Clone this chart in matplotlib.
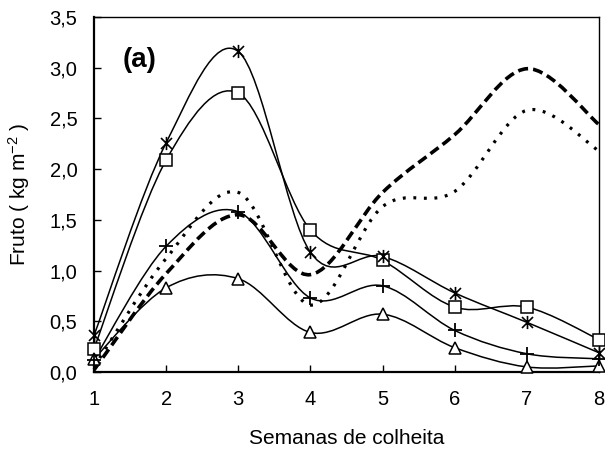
import matplotlib
matplotlib.use("Agg")
import matplotlib.pyplot as plt
from matplotlib.path import Path
from matplotlib.patches import PathPatch
import numpy as np

plt.rcParams['font.family'] = ['Liberation Sans', 'DejaVu Sans']
plt.rcParams['mathtext.default'] = 'regular'

weeks = [1, 2, 3, 4, 5, 6, 7, 8]
star = [0.36, 2.26, 3.16, 1.18, 1.14, 0.78, 0.49, 0.19]
square = [0.23, 2.09, 2.75, 1.40, 1.10, 0.64, 0.64, 0.32]
plus = [0.12, 1.24, 1.58, 0.73, 0.85, 0.41, 0.18, 0.13]
triangle = [0.13, 0.83, 0.92, 0.39, 0.57, 0.24, 0.05, 0.06]
dashed = [0.02, 0.97, 1.55, 0.96, 1.77, 2.34, 2.99, 2.44]
dotted = [0.05, 1.12, 1.77, 0.66, 1.63, 1.78, 2.58, 2.18]

xticks = [1, 2, 3, 4, 5, 6, 7, 8]
yticks = [0.0, 0.5, 1.0, 1.5, 2.0, 2.5, 3.0, 3.5]


def smooth_path(x, y):
    p = np.column_stack([x, y]).astype(float)
    n = len(p)
    verts = [p[0]]
    codes = [Path.MOVETO]
    for i in range(n - 1):
        p0 = p[i - 1] if i > 0 else p[i]
        p1 = p[i]
        p2 = p[i + 1]
        p3 = p[i + 2] if i + 2 < n else p[i + 1]
        c1 = p1 + (p2 - p0) / 6.0
        c2 = p2 - (p3 - p1) / 6.0
        verts += [c1, c2, p2]
        codes += [Path.CURVE4] * 3
    return Path(verts, codes)


fig = plt.figure(figsize=(6.05, 4.53), dpi=100)
ax = fig.add_axes([0.1554, 0.1788, 0.8346, 0.7837])

def add_curve(y, lw, ls):
    patch = PathPatch(smooth_path(weeks, y), facecolor='none', edgecolor='black',
                      linewidth=lw, linestyle=ls, zorder=2, clip_on=False)
    ax.add_patch(patch)

add_curve(dashed, 2.6, (0, (2.8, 1.4)))
add_curve(dotted, 2.3, (0, (0.9, 2.4)))
for s in [star, square, plus, triangle]:
    add_curve(s, 1.1, '-')

star_marker = Path([(-1, -1), (1, 1), (-1, 1), (1, -1), (0, -1.2), (0, 1.2)],
                   [Path.MOVETO, Path.LINETO, Path.MOVETO, Path.LINETO, Path.MOVETO, Path.LINETO])

mk = dict(ls='none', color='black', markerfacecolor='white', markeredgecolor='black',
          clip_on=False, zorder=3)
ax.plot(weeks, square, marker='s', markersize=8, markeredgewidth=1.1, **mk)
ax.plot(weeks, triangle, marker='^', markersize=9, markeredgewidth=1.1, **mk)
ax.plot(weeks, plus, marker='+', markersize=9.5, markeredgewidth=1.3, **mk)
ax.plot(weeks, star, marker=star_marker, markersize=9.5, markeredgewidth=1.2, **mk)

ax.set_xlim(1, 8)
ax.set_ylim(0, 3.5)
ax.set_xticks(xticks)
ax.set_xticklabels([str(v) for v in xticks])
ax.set_yticks(yticks)
ax.set_yticklabels([f"{v:.1f}".replace('.', ',') for v in yticks])
ax.tick_params(direction='in', length=5, width=1, labelsize=14.5)
ax.tick_params(axis='x', pad=13)
ax.tick_params(axis='y', pad=12)

for side in ['left', 'bottom']:
    ax.spines[side].set_linewidth(1.6)
for side in ['top', 'right']:
    ax.spines[side].set_linewidth(1.0)

ax.set_xlabel('Semanas de colheita', fontsize=15)
ax.xaxis.set_label_coords(0.5, -0.16)
ax.set_ylabel('Fruto ( kg m$^{-2}$ )', fontsize=15)
ax.yaxis.set_label_coords(-0.123, 0.5)

ax.text(1.625, 3.08, '(a)', fontsize=20, fontweight='bold', ha='center', va='center')

fig.savefig('out.png', dpi=100)
